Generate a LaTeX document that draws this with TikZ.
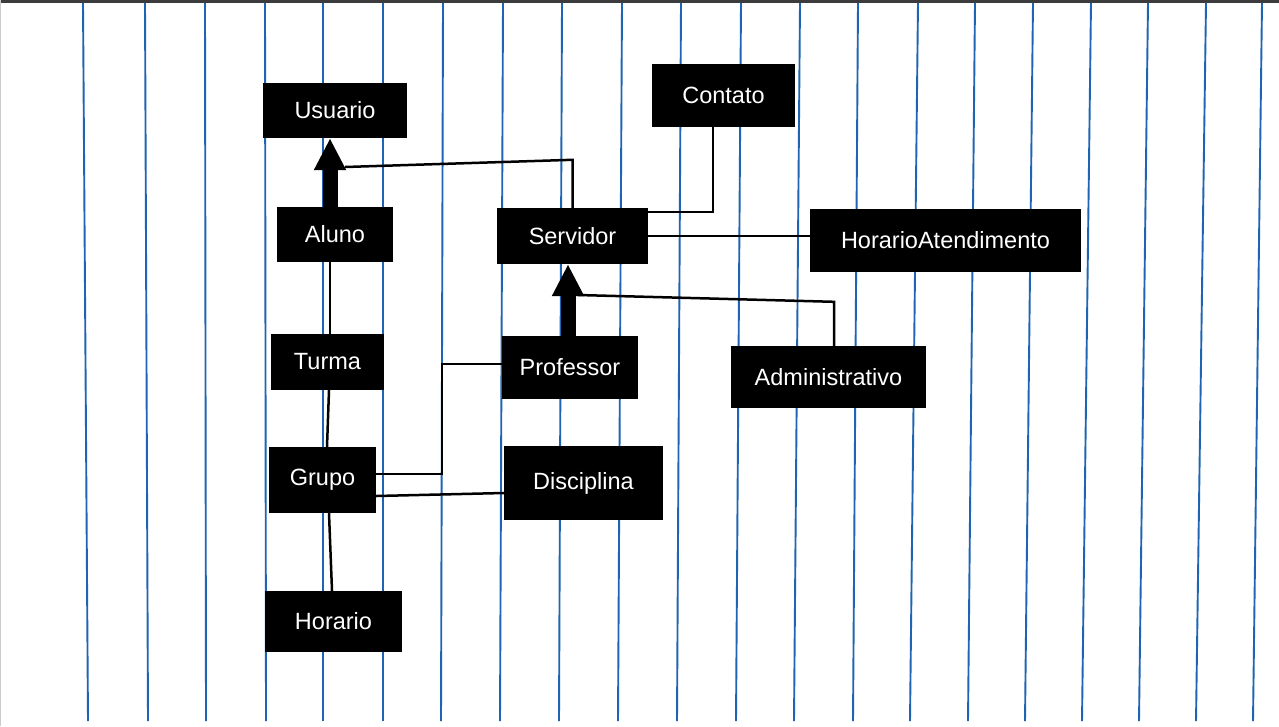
\documentclass[tikz,border=0pt]{standalone}
\usepackage{fontspec}
\setmainfont{Liberation Sans}
\usetikzlibrary{arrows.meta}
\definecolor{ruleblue}{RGB}{30,100,180}
\definecolor{topband}{RGB}{60,60,60}
\begin{document}
\begin{tikzpicture}[x=1pt,y=-1pt,
  box/.style={fill=black,text=white,inner sep=0pt,font=\fontsize{23.5}{28}\selectfont},
  conn/.style={draw=black,line width=2.5pt,line join=miter},
  inh/.style={draw=black,line width=15pt,-{Triangle[width=30pt,length=32pt]}},
  rule/.style={draw=ruleblue,line width=1.9pt}]
\useasboundingbox (0,0) rectangle (1279,726);
\fill[white] (0,0) rectangle (1279,726);
\fill[topband] (0,0) rectangle (1279,3);
\fill[black!20] (0,0) rectangle (1,726);
% ruled lines
\foreach \t/\b in {83/88,145/148,205/206,265/266,323/323,383/383,443/441,503/500,562/559,622/618,681/677,741/736,800/794,858/853,918/910,975/968,1033/1025,1091/1082,1148/1139,1206/1196,1262/1253}{
  \draw[rule] (\t,3) -- (\b,721);
}
% nodes
\node[box,minimum width=144pt,minimum height=55pt] (usuario) at (335,110.5) {Usuario};
\node[box,minimum width=116pt,minimum height=55pt] (aluno) at (335,234.5) {Aluno};
\node[box,minimum width=151pt,minimum height=56pt] (servidor) at (572.5,236) {Servidor};
\node[box,minimum width=143pt,minimum height=63pt] (contato) at (723.5,95.5) {Contato};
\node[box,minimum width=271pt,minimum height=63pt] (horarioatendimento) at (945.5,240.5) {HorarioAtendimento};
\node[box,minimum width=113pt,minimum height=56pt] (turma) at (327.5,362) {Turma};
\node[box,minimum width=136pt,minimum height=63pt] (professor) at (570,367.5) {Professor};
\node[box,minimum width=195pt,minimum height=62pt] (administrativo) at (828.5,377) {Administrativo};
\node[box,minimum width=107pt,minimum height=66pt] (grupo) at (322.5,480) {Grupo};
\node[box,minimum width=159pt,minimum height=74pt] (disciplina) at (583.5,483) {Disciplina};
\node[box,minimum width=137pt,minimum height=61pt] (horario) at (333.5,621.5) {Horario};
\coordinate (ua) at (345,167);
\coordinate (sa) at (578,295);
% connectors
\draw[inh] ([xshift=-5pt]aluno.north) -- ([xshift=-5pt]usuario.south);
\draw[inh] ([xshift=-2pt]professor.north) -- ([xshift=-4.5pt]servidor.south);
\draw[conn] (servidor.north) -- ++(0,-48) -- (ua);
\draw[conn] ([xshift=5.5pt]administrativo.north) -- ++(0,-44) -- (sa);
\draw[conn] ([xshift=-10.5pt]contato.south) |- ([yshift=24pt]servidor.east);
\draw[conn] (servidor.east) -- (servidor.east -| horarioatendimento.west);
\draw[conn] ([xshift=-5pt]aluno.south) -- ([xshift=2.5pt]turma.north);
\draw[conn] ([xshift=1.5pt]turma.south) -- ([xshift=4.5pt]grupo.north);
\draw[conn] ([xshift=6.5pt]grupo.south) -- ([xshift=-1.5pt]horario.north);
\draw[conn] ([yshift=6pt]grupo.east) -- ++(66,0) |- ([yshift=3.5pt]professor.west);
\draw[conn] ([yshift=-16pt]grupo.east) -- ([yshift=-10pt]disciplina.west);
\end{tikzpicture}
\end{document}
